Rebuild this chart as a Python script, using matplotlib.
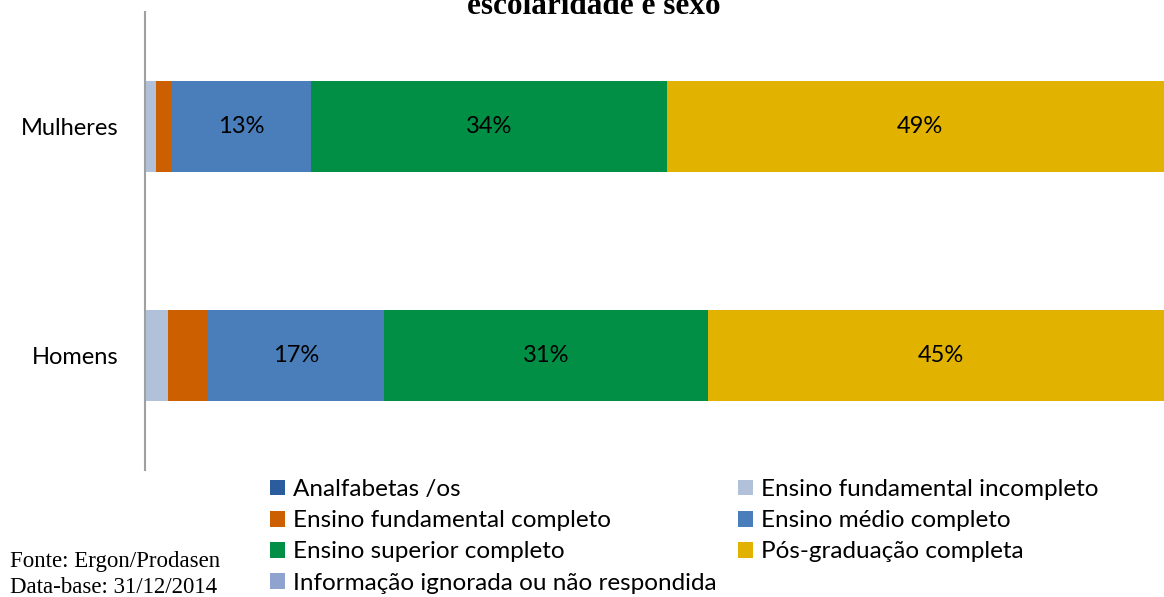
import matplotlib
matplotlib.use('Agg')
from matplotlib import pyplot as plt

categorias = ['Homens', 'Mulheres']
series = ['Analfabetas /os', 'Ensino fundamental incompleto', 'Ensino fundamental completo',
          'Ensino médio completo', 'Ensino superior completo', 'Pós-graduação completa',
          'Informação ignorada ou não respondida']
analfabetos = [0.0, 0.0]
fund_incompleto = [2.2, 1.1]
fund_completo = [3.9, 1.5]
medio = [17.0, 13.4]
superior = [31.3, 34.4]
pos_grad = [45.0, 49.0]
ignorada = [0.6, 0.6]
rotulos = {3: ['17%', '13%'], 4: ['31%', '34%'], 5: ['45%', '49%']}

cores = ['#2a5c9e', '#b0c1d9', '#cc6000', '#4a7ebb', '#008f45', '#e1b300', '#8ea3ce']
valores = [analfabetos, fund_incompleto, fund_completo, medio, superior, pos_grad, ignorada]

plt.rcParams['font.family'] = ['Lato', 'DejaVu Sans']

fig = plt.figure(figsize=(11.64, 5.97), dpi=100)
ax = fig.add_axes([145/1164, 1 - 470/597, 1035/1164, 458/597])

barras = []
esquerda = [0.0, 0.0]
for i, (nome, vals) in enumerate(zip(series, valores)):
    b = ax.barh(categorias, vals, left=esquerda, height=0.4, color=cores[i], label=nome)
    barras.append(b)
    if i in rotulos:
        for j in range(len(categorias)):
            ax.text(esquerda[j] + vals[j] / 2, j, rotulos[i][j], ha='center', va='center',
                    fontsize=17, color='black')
    esquerda = [e + v for e, v in zip(esquerda, vals)]

ax.set_xlim(0, 100)
ax.set_ylim(-0.5, 1.5)
ax.set_xticks([])
for s in ['top', 'right', 'bottom']:
    ax.spines[s].set_visible(False)
ax.spines['left'].set_color('#a0a0a0')
ax.spines['left'].set_linewidth(1.5)
ax.tick_params(axis='y', length=0, labelsize=17, pad=19.4)

opcoes = dict(loc='upper left', ncol=1, frameon=False, fontsize=17.5,
              handlelength=0.62, handleheight=0.62, handletextpad=0.33,
              labelspacing=0.42, borderaxespad=0, borderpad=0)
col1 = [0, 2, 4, 6]
col2 = [1, 3, 5]
fig.legend([barras[k] for k in col1], [series[k] for k in col1],
           bbox_to_anchor=(270/1164, 1 - 479/597), **opcoes)
fig.legend([barras[k] for k in col2], [series[k] for k in col2],
           bbox_to_anchor=(738/1164, 1 - 479/597), **opcoes)

fig.text(594/1164, 1 - 14/597, 'escolaridade e sexo', ha='center', va='baseline',
         fontsize=22.5, fontweight='bold', family='Liberation Serif')
fig.text(10/1164, 1 - 567/597, 'Fonte: Ergon/Prodasen', fontsize=16.5,
         family='Liberation Serif', va='baseline')
fig.text(10/1164, 1 - 593/597, 'Data-base: 31/12/2014', fontsize=16.5,
         family='Liberation Serif', va='baseline')

fig.savefig('out.png', dpi=100)
